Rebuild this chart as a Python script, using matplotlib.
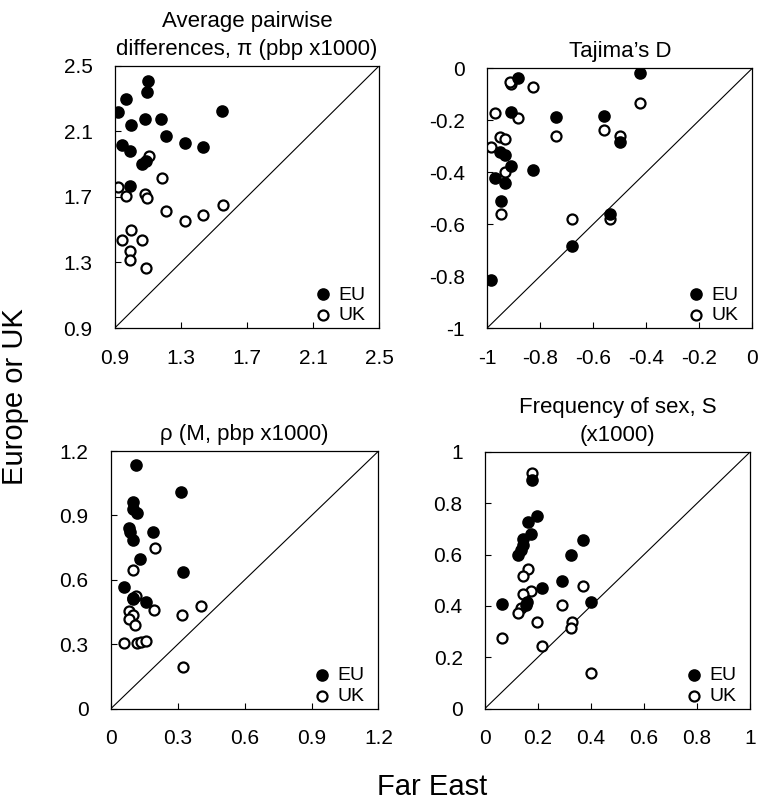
import matplotlib
matplotlib.use("Agg")
import matplotlib.pyplot as plt

plt.rcParams['font.family'] = ['Liberation Sans', 'DejaVu Sans']

# panel 1: average pairwise differences
pi_eu_x = [1.102, 1.096, 0.965, 0.920, 1.001, 1.082, 1.181, 1.550, 1.209, 0.944,
           0.995, 1.322, 1.435, 1.066, 1.088, 0.995]
pi_eu_y = [2.404, 2.337, 2.296, 2.217, 2.136, 2.176, 2.174, 2.221, 2.073, 2.014,
           1.981, 2.028, 2.002, 1.900, 1.916, 1.764]
pi_uk_x = [1.106, 1.183, 0.920, 0.965, 1.082, 1.096, 1.553, 1.209, 1.435, 1.322,
           1.001, 0.944, 1.066, 0.995, 0.995, 1.088]
pi_uk_y = [1.947, 1.815, 1.762, 1.707, 1.717, 1.693, 1.652, 1.615, 1.587, 1.550,
           1.500, 1.435, 1.435, 1.372, 1.317, 1.266]

# panel 2: Tajima's D
td_eu_x = [-0.424, -0.883, -0.912, -0.741, -0.560, -0.501, -0.950, -0.931, -0.912, -0.828,
           -0.972, -0.933, -0.947, -0.535, -0.679, -0.984]
td_eu_y = [-0.017, -0.038, -0.169, -0.188, -0.183, -0.286, -0.321, -0.336, -0.376, -0.391,
           -0.421, -0.442, -0.513, -0.562, -0.686, -0.817]
td_uk_x = [-0.424, -0.912, -0.915, -0.828, -0.971, -0.883, -0.742, -0.560, -0.501, -0.950,
           -0.931, -0.984, -0.933, -0.947, -0.679, -0.535]
td_uk_y = [-0.135, -0.062, -0.052, -0.074, -0.173, -0.192, -0.260, -0.237, -0.260, -0.265,
           -0.272, -0.305, -0.400, -0.562, -0.581, -0.581]

# panel 3: rho
rho_eu_x = [0.112, 0.314, 0.097, 0.101, 0.119, 0.083, 0.086, 0.190, 0.097, 0.131,
            0.321, 0.057, 0.101, 0.097, 0.156]
rho_eu_y = [1.135, 1.009, 0.964, 0.930, 0.912, 0.843, 0.824, 0.824, 0.784, 0.699,
            0.635, 0.567, 0.517, 0.510, 0.495]
rho_uk_x = [0.198, 0.101, 0.113, 0.083, 0.193, 0.097, 0.083, 0.106, 0.406, 0.317,
            0.057, 0.116, 0.135, 0.156, 0.321]
rho_uk_y = [0.749, 0.646, 0.526, 0.457, 0.461, 0.434, 0.416, 0.389, 0.480, 0.434,
            0.306, 0.306, 0.310, 0.313, 0.194]

# panel 4: frequency of sex
sex_eu_x = [0.176, 0.197, 0.164, 0.174, 0.145, 0.142, 0.138, 0.126, 0.371, 0.325,
            0.292, 0.216, 0.065, 0.160, 0.155, 0.400]
sex_eu_y = [0.889, 0.749, 0.726, 0.680, 0.659, 0.638, 0.616, 0.599, 0.657, 0.599,
            0.497, 0.468, 0.407, 0.416, 0.403, 0.416]
sex_uk_x = [0.176, 0.164, 0.145, 0.174, 0.142, 0.369, 0.136, 0.123, 0.289, 0.197,
            0.327, 0.325, 0.065, 0.216, 0.400]
sex_uk_y = [0.919, 0.543, 0.515, 0.459, 0.445, 0.478, 0.390, 0.371, 0.403, 0.336,
            0.336, 0.313, 0.274, 0.242, 0.137]

panels = [
    dict(title="Average pairwise\ndifferences, π (pbp x1000)", lim=(0.9, 2.5),
         ticks=[0.9, 1.3, 1.7, 2.1, 2.5], labels=["0.9", "1.3", "1.7", "2.1", "2.5"],
         eu=(pi_eu_x, pi_eu_y), uk=(pi_uk_x, pi_uk_y),
         pos=[0.151, 0.591, 0.348, 0.327]),
    dict(title="Tajima’s D", lim=(-1, 0),
         ticks=[-1, -0.8, -0.6, -0.4, -0.2, 0], labels=["-1", "-0.8", "-0.6", "-0.4", "-0.2", "0"],
         eu=(td_eu_x, td_eu_y), uk=(td_uk_x, td_uk_y),
         pos=[0.641, 0.591, 0.349, 0.324]),
    dict(title="ρ (M, pbp x1000)", lim=(0, 1.2),
         ticks=[0, 0.3, 0.6, 0.9, 1.2], labels=["0", "0.3", "0.6", "0.9", "1.2"],
         eu=(rho_eu_x, rho_eu_y), uk=(rho_uk_x, rho_uk_y),
         pos=[0.146, 0.1165, 0.352, 0.321]),
    dict(title="Frequency of sex, S\n(x1000)", lim=(0, 1),
         ticks=[0, 0.2, 0.4, 0.6, 0.8, 1], labels=["0", "0.2", "0.4", "0.6", "0.8", "1"],
         eu=(sex_eu_x, sex_eu_y), uk=(sex_uk_x, sex_uk_y),
         pos=[0.638, 0.1165, 0.349, 0.320]),
]

fig = plt.figure(figsize=(7.6, 8.02), dpi=100)

for p in panels:
    ax = fig.add_axes(p["pos"])
    lo, hi = p["lim"]
    ax.plot([lo, hi], [lo, hi], color="black", lw=0.8, zorder=1)
    ax.scatter(*p["eu"], s=62, c="black", edgecolors="black", linewidths=1.2, label="EU", zorder=3)
    ax.scatter(*p["uk"], s=52, c="white", edgecolors="black", linewidths=1.6, label="UK", zorder=2)
    ax.set_xlim(lo, hi)
    ax.set_ylim(lo, hi)
    ax.set_xticks(p["ticks"])
    ax.set_yticks(p["ticks"])
    ax.set_xticklabels(p["labels"])
    ax.set_yticklabels(p["labels"])
    ax.tick_params(direction="in", length=4, width=0.8, labelsize=15)
    ax.tick_params(axis="x", pad=15)
    ax.tick_params(axis="y", pad=16)
    for sp in ax.spines.values():
        sp.set_linewidth(0.9)
    ax.set_title(p["title"], fontsize=16, pad=8, linespacing=1.4)
    ax.legend(loc="lower right", bbox_to_anchor=(0.962, 0.0), frameon=False, fontsize=14,
              handletextpad=0.2, labelspacing=0.15, borderaxespad=0.0, borderpad=0.2,
              handlelength=1.2)

fig.text(0.02, 0.505, "Europe or UK", rotation=90, ha="center", va="center", fontsize=21)
fig.text(0.568, 0.019, "Far East", ha="center", va="center", fontsize=21)

fig.savefig("out.png", dpi=100)
